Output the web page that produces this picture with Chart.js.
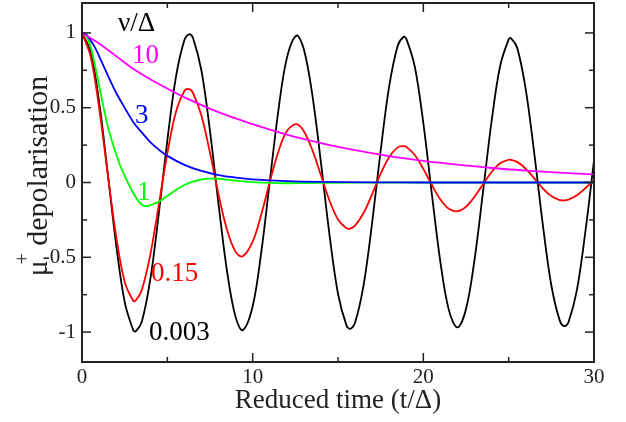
<!DOCTYPE html>
<html>
<head>
<meta charset="utf-8">
<script src="https://cdn.jsdelivr.net/npm/chart.js@4.4.0/dist/chart.umd.min.js"></script>
<style>
  body { margin: 0; background: #fff; }
  canvas { display: block; }
</style>
</head>
<body>
<canvas id="mycanvas" width="626" height="422"></canvas>
<script>
// values (reduced time t/Delta, depolarisation)
var tOsc = [0, 0.5, 1, 1.5, 2, 2.5, 3, 3.14, 3.5, 4, 4.5, 5, 5.5, 6, 6.28, 6.5, 7, 7.5, 8, 8.5, 9, 9.42, 10, 10.5,
  11, 11.5, 12, 12.57, 13, 13.5, 14, 14.5, 15, 15.5, 15.71, 16, 16.5, 17, 17.5, 18, 18.5, 18.85, 19, 19.5, 20, 20.5,
  21, 21.5, 22, 22.5, 23, 23.5, 24, 24.5, 25, 25.13, 25.5, 26, 26.5, 27, 27.5, 28, 28.27, 28.5, 29, 29.5, 30];
var black003 = [1, 0.877, 0.540, 0.071, -0.415, -0.798, -0.986, -0.996, -0.932, -0.650, -0.209, 0.282, 0.703, 0.952, 0.991, 0.968, 0.747, 0.343, -0.144, -0.595, -0.900, -0.987, -0.827, -0.469,
  0.004, 0.476, 0.830, 0.982, 0.891, 0.583, 0.134, -0.348, -0.744, -0.957, -0.978, -0.936, -0.686, -0.269, 0.214, 0.644, 0.915, 0.974, 0.962, 0.774, 0.397, -0.077,
  -0.532, -0.855, -0.969, -0.846, -0.516, -0.060, 0.410, 0.779, 0.957, 0.965, 0.900, 0.623, 0.195, -0.281, -0.687, -0.925, -0.960, -0.936, -0.718, -0.324, 0.148];
var red015 = [1, 0.845, 0.501, 0.063, -0.358, -0.664, -0.791, -0.790, -0.720, -0.484, -0.150, 0.195, 0.469, 0.612, 0.624, 0.600, 0.446, 0.198, -0.080, -0.318, -0.464, -0.493, -0.396, -0.216,
  0.002, 0.204, 0.343, 0.390, 0.342, 0.216, 0.048, -0.120, -0.247, -0.306, -0.308, -0.288, -0.204, -0.077, 0.059, 0.171, 0.235, 0.243, 0.238, 0.184, 0.091, -0.017,
  -0.113, -0.176, -0.192, -0.162, -0.095, -0.011, 0.070, 0.128, 0.152, 0.152, 0.138, 0.092, 0.028, -0.039, -0.091, -0.118, -0.120, -0.115, -0.085, -0.037, 0.016];

var tGreen = [0, 0.25, 0.5, 0.75, 1, 1.25, 1.5, 1.75, 2, 2.25, 2.5, 2.75, 3, 3.25, 3.5, 3.75, 4, 4.5, 5, 5.5, 6, 6.5, 7, 7.5, 8, 8.5, 9, 10, 11, 12, 13, 15, 18, 22, 26, 30];
var green1 = [1, 0.98, 0.91, 0.79, 0.65, 0.51, 0.38, 0.28, 0.19, 0.11, 0.045, -0.015, -0.07, -0.115, -0.148, -0.158, -0.152, -0.128, -0.09, -0.05, -0.017, 0.006, 0.02, 0.026, 0.025, 0.019, 0.012, 0.003, -0.003, -0.005, -0.004, -0.002, 0, 0, 0, 0];

var tBlue = [0, 0.25, 0.5, 0.75, 1, 1.5, 2, 2.5, 3, 3.5, 4, 4.5, 5, 6, 7, 8, 9, 10, 12, 14, 17, 20, 25, 30];
var blue3 = [1, 0.99, 0.95, 0.905, 0.845, 0.72, 0.60, 0.50, 0.405, 0.335, 0.27, 0.22, 0.178, 0.118, 0.077, 0.05, 0.033, 0.021, 0.009, 0.004, 0.001, 0, 0, 0];

var tMag = [0, 1, 2, 3, 4, 5, 6, 8, 10, 12, 14, 16, 18, 20, 22, 24, 26, 28, 30];
var mag10 = [1, 0.93, 0.845, 0.76, 0.69, 0.628, 0.57, 0.47, 0.39, 0.32, 0.264, 0.217, 0.177, 0.145, 0.119, 0.097, 0.08, 0.066, 0.054];

var xMajor = [0, 10, 20, 30];
var xMinor = [5, 15, 25];
var yMajor = [-1, -0.5, 0, 0.5, 1];
var yMinor = [-0.75, -0.25, 0.25, 0.75];

// curve labels, placed in data units
var curveLabels = [
  { text: 'ν/Δ', t: 2.11, v: 1.013, color: '#000' },
  { text: '10', t: 2.93, v: 0.799, color: '#ff00ff' },
  { text: '3', t: 3.11, v: 0.398, color: '#0000ff' },
  { text: '1', t: 3.22, v: -0.117, color: '#00ff00' },
  { text: '0.15', t: 4.04, v: -0.659, color: '#ff0000' },
  { text: '0.003', t: 3.93, v: -1.053, color: '#000' }
];

function pts(ts, vs) {
  return ts.map(function (t, i) { return { x: t, y: vs[i] }; });
}

function curve(label, ts, vs, color) {
  return {
    label: label,
    data: pts(ts, vs),
    borderColor: color,
    borderWidth: 1.8,
    pointRadius: 0,
    tension: 0.35,
    fill: false
  };
}

var serif = '"Liberation Serif", "Times New Roman", serif';

var framePlugin = {
  id: 'frame',
  afterDatasetsDraw: function (chart) {
    var ctx = chart.ctx, a = chart.chartArea;
    var xs = chart.scales.x, ys = chart.scales.y;
    ctx.save();
    ctx.strokeStyle = '#222';
    ctx.lineWidth = 1.5;
    function seg(x1, y1, x2, y2) {
      ctx.beginPath(); ctx.moveTo(x1, y1); ctx.lineTo(x2, y2); ctx.stroke();
    }
    function xTick(v, len) {
      var p = xs.getPixelForValue(v);
      seg(p, a.bottom, p, a.bottom - len);
      seg(p, a.top, p, a.top + len);
    }
    function yTick(v, len) {
      var p = ys.getPixelForValue(v);
      seg(a.left, p, a.left + len, p);
      seg(a.right, p, a.right - len, p);
    }
    xMajor.forEach(function (v) { xTick(v, 9); });
    xMinor.forEach(function (v) { xTick(v, 5); });
    yMajor.forEach(function (v) { yTick(v, 9); });
    yMinor.forEach(function (v) { yTick(v, 5); });

    ctx.lineWidth = 2;
    ctx.strokeRect(a.left, a.top, a.right - a.left, a.bottom - a.top);

    // labels next to the curves
    ctx.font = '27px ' + serif;
    ctx.textAlign = 'left';
    ctx.textBaseline = 'alphabetic';
    curveLabels.forEach(function (l) {
      ctx.fillStyle = l.color;
      ctx.fillText(l.text, xs.getPixelForValue(l.t), ys.getPixelForValue(l.v));
    });

    // x axis title
    ctx.fillStyle = '#222';
    ctx.textAlign = 'center';
    ctx.font = '27px ' + serif;
    ctx.fillText('Reduced time (t/Δ)', (a.left + a.right) / 2, 408);

    // y axis title, rotated, with superscript +
    ctx.save();
    ctx.translate(47, 176);
    ctx.rotate(-Math.PI / 2);
    ctx.textAlign = 'left';
    ctx.font = '30px ' + serif;
    var wMu = ctx.measureText('μ').width;
    var wRest = ctx.measureText(' depolarisation').width;
    ctx.font = '20px ' + serif;
    var wPlus = ctx.measureText('+').width;
    var total = wMu + wPlus * 0.6 + wRest;
    var x0 = -total / 2;
    ctx.font = '30px ' + serif;
    ctx.fillText('μ', x0, 0);
    ctx.font = '20px ' + serif;
    ctx.fillText('+', x0 + wMu - wPlus * 0.4, -18);
    ctx.font = '30px ' + serif;
    ctx.fillText(' depolarisation', x0 + wMu + wPlus * 0.6, 0);
    ctx.restore();

    ctx.restore();
  }
};

var ctx = document.getElementById('mycanvas');

var chart = new Chart(ctx, {
  type: 'line',
  data: {
    datasets: [
      curve('10', tMag, mag10, '#ff00ff'),
      curve('3', tBlue, blue3, '#0000ff'),
      curve('1', tGreen, green1, '#00ff00'),
      curve('0.15', tOsc, red015, '#ff0000'),
      curve('0.003', tOsc, black003, '#000000')
    ]
  },
  options: {
    responsive: false,
    animation: false,
    layout: { padding: { top: 3, right: 32, left: 0, bottom: 0 } },
    plugins: {
      legend: { display: false },
      tooltip: { enabled: false }
    },
    scales: {
      x: {
        type: 'linear',
        min: 0,
        max: 30,
        grid: { display: false, drawTicks: false },
        border: { display: false },
        afterBuildTicks: function (s) { s.ticks = xMajor.map(function (v) { return { value: v }; }); },
        afterFit: function (s) { s.height = 60; s.paddingLeft = 0; s.paddingRight = 0; },
        ticks: {
          padding: 3,
          color: '#222',
          font: { family: serif, size: 21 },
          maxRotation: 0,
          callback: function (v) { return String(v); }
        }
      },
      y: {
        type: 'linear',
        min: -1.2,
        max: 1.2,
        grid: { display: false, drawTicks: false },
        border: { display: false },
        afterBuildTicks: function (s) { s.ticks = yMajor.map(function (v) { return { value: v }; }); },
        afterFit: function (s) { s.width = 82; s.paddingTop = 0; s.paddingBottom = 0; },
        ticks: {
          padding: 6,
          color: '#222',
          font: { family: serif, size: 21 },
          callback: function (v) { return String(v); }
        }
      }
    }
  },
  plugins: [framePlugin]
});
</script>
</body>
</html>
